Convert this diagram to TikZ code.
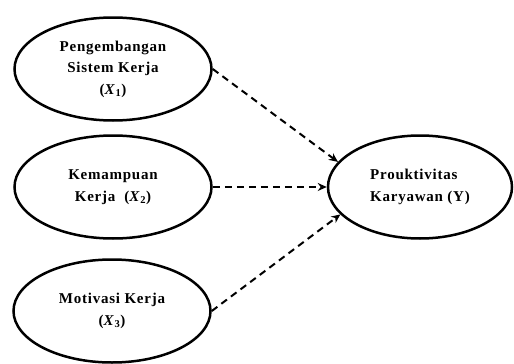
\documentclass[tikz,border=0pt]{standalone}
\usepackage{fontspec}
\setmainfont{Liberation Serif}
\usetikzlibrary{arrows.meta,shapes.geometric}
\tikzset{
  var/.style={draw=black, line width=2.5pt, ellipse, inner sep=0pt, align=center,
    font=\fontsize{15}{21.5}\selectfont\bfseries\addfontfeature{LetterSpace=5}},
  link/.style={line width=2pt, dash pattern=on 7pt off 5pt, -{Stealth[length=9pt,width=8pt]}}
}
\begin{document}
\begin{tikzpicture}[x=1pt,y=-1pt]
\useasboundingbox (0,0) rectangle (514,364);
\node[var, minimum width=197pt, minimum height=103pt] (e1) at (113,69) {Pengembangan\\Sistem Kerja\\(\textit{X}\textsubscript{1})};
\node[var, minimum width=197pt, minimum height=103pt] (e2) at (113,187) {Kemampuan\\Kerja~ (\textit{X}\textsubscript{2})};
\node[var, minimum width=197pt, minimum height=103pt] (e3) at (112,311) {Motivasi Kerja\\(\textit{X}\textsubscript{3})};
\node[var, align=left, minimum width=184pt, minimum height=103pt] (y) at (420,187) {Prouktivitas\\Karyawan (Y)};
\draw[link] (e1.east) -- (y.163);
\draw[link] (e2.east) -- (y.west);
\draw[link] (e3.east) -- (y.199);
\end{tikzpicture}
\end{document}
